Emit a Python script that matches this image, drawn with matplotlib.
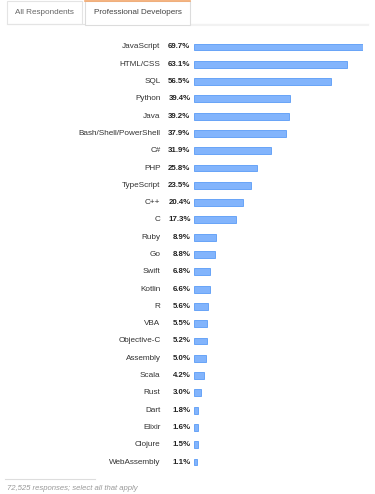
import matplotlib.pyplot as plt
from matplotlib.patches import Rectangle
from matplotlib.lines import Line2D

languages = ['JavaScript', 'HTML/CSS', 'SQL', 'Python', 'Java', 'Bash/Shell/PowerShell',
             'C#', 'PHP', 'TypeScript', 'C++', 'C', 'Ruby', 'Go', 'Swift', 'Kotlin',
             'R', 'VBA', 'Objective-C', 'Assembly', 'Scala', 'Rust', 'Dart', 'Elixir',
             'Clojure', 'WebAssembly']
shares = [69.7, 63.1, 56.5, 39.4, 39.2, 37.9, 31.9, 25.8, 23.5, 20.4, 17.3, 8.9, 8.8,
          6.8, 6.6, 5.6, 5.5, 5.2, 5.0, 4.2, 3.0, 1.8, 1.6, 1.5, 1.1]
tabs = ['All Respondents', 'Professional Developers']
footnote = '72,525 responses; select all that apply'

W, H = 375, 494
plt.rcParams['font.family'] = ['Liberation Sans', 'DejaVu Sans']
fig = plt.figure(figsize=(W / 100, H / 100), dpi=100)

# overlay axes in pixel coords for tabs / footer
deco = fig.add_axes([0, 0, 1, 1])
deco.set_xlim(0, W)
deco.set_ylim(H, 0)
deco.axis('off')

# tabs
deco.add_patch(Rectangle((7, 1), 75, 23, facecolor='white', edgecolor='#e4e4e4', lw=0.8))
deco.add_patch(Rectangle((85, 1), 105, 24, facecolor='white', edgecolor='#dcdcdc', lw=0.8, zorder=3))
deco.add_line(Line2D([85, 190], [1, 1], color='#f3a66a', lw=1.2, zorder=4))
deco.add_line(Line2D([7, 85], [24, 24], color='#e4e4e4', lw=0.8))
deco.add_line(Line2D([190, 368], [24, 24], color='#e4e4e4', lw=0.8))
deco.add_line(Line2D([190, 368], [25.5, 25.5], color='#f2f2f2', lw=1.5))
deco.text(44.5, 12.5, tabs[0], ha='center', va='center', fontsize=5.9, color='#666666')
deco.text(137.5, 12.5, tabs[1], ha='center', va='center', fontsize=5.9, color='#444444', zorder=5)

# footer
deco.add_line(Line2D([5, 95], [479, 479], color='#dddddd', lw=0.8))
deco.text(7, 488, footnote, ha='left', va='center', fontsize=5.6, color='#999999', style='italic')

# bar chart axes: x 194..363 px, rows centred 47..462 px
ax = fig.add_axes([194 / W, 1 - 470.65 / H, 169 / W, (470.65 - 38.35) / H])
ypos = list(range(len(languages)))
ax.barh(ypos, shares, height=0.4, color='#82b4fc', edgecolor='#5a9cf6', lw=0.6)
ax.set_xlim(0, shares[0])
ax.set_ylim(len(languages) - 0.5, -0.5)
ax.axis('off')

for y, lang, v in zip(ypos, languages, shares):
    ax.annotate(lang, (0, y), xytext=(-33.5, 0), textcoords='offset pixels',
                ha='right', va='center', fontsize=5.9, color='#333333')
    ax.annotate(f'{v}%', (0, y), xytext=(-3.5, 0), textcoords='offset pixels',
                ha='right', va='center', fontsize=5.7, color='#222222', fontweight='bold')

fig.savefig('out.png', dpi=100)
